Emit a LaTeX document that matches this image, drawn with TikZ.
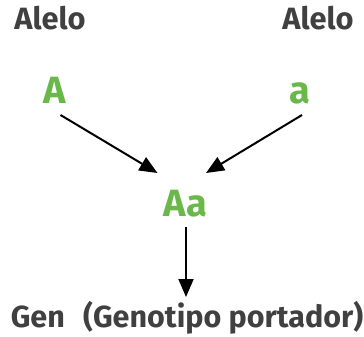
\documentclass[tikz,border=0pt]{standalone}
\usepackage{fontspec}
\setmainfont{Fira Sans}
\usetikzlibrary{arrows.meta,positioning}
\definecolor{allelegreen}{HTML}{6BB84A}
\definecolor{labelgray}{HTML}{404040}

\begin{document}
\begin{tikzpicture}[
    x=1pt, y=-1pt,
    title/.style={font=\fontsize{30.8}{33}\selectfont\bfseries, text=labelgray,
                  anchor=base, inner sep=0pt},
    allele/.style={font=\fontsize{38}{41}\selectfont\bfseries, text=allelegreen,
                   anchor=base, inner sep=0pt},
    arrow/.style={-{Triangle[length=18pt, width=15pt]}, line width=2pt, color=black}
]
    \useasboundingbox (0,0) rectangle (364,337);

    \node[title] (leftlabel) at (50,30) {Alelo};
    \node[title] (rightlabel) at (318,30) {Alelo};
    \node[allele] (big) at (54.5,103) {A};
    \node[allele] (small) at (299.5,103) {a};
    \node[allele] (genotype) at (185.5,216) {Aa};
    \node[title, font=\fontsize{30.5}{33}\selectfont\bfseries] (gene) at (187,327)
        {Gen\hspace{0.6em}(Genotipo portador)};

    \draw[arrow] ([shift={(6,12)}]big.base) -- ([shift={(-28,-43)}]genotype.base);
    \draw[arrow] ([shift={(2.5,12)}]small.base) -- ([shift={(20.5,-43)}]genotype.base);
    \draw[arrow] ([shift={(0.5,11)}]genotype.base) -- ([shift={(-1,-30)}]gene.base);
\end{tikzpicture}
\end{document}
